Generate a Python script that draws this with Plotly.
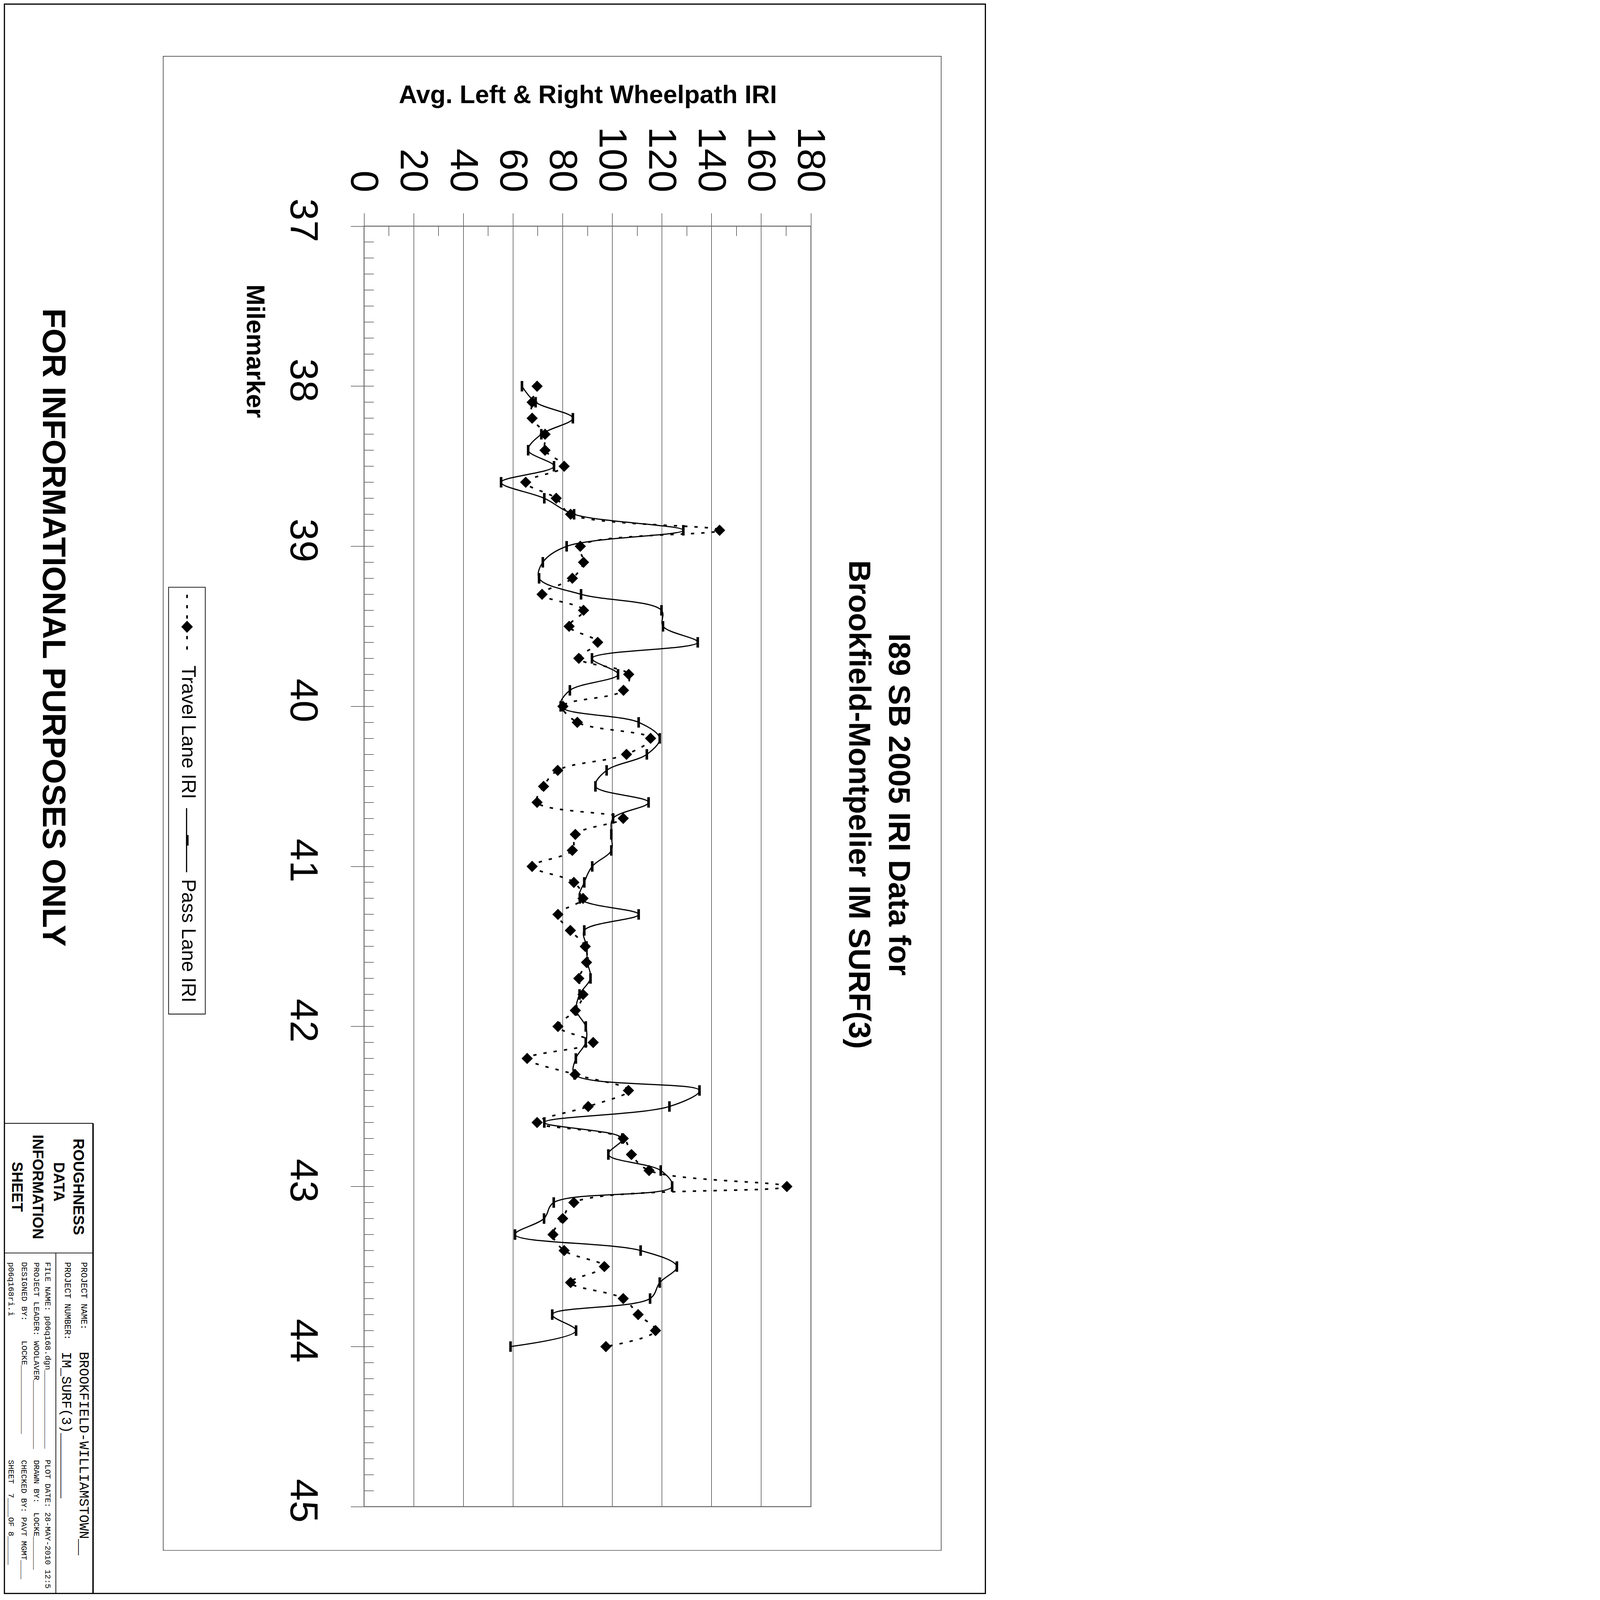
import plotly.graph_objects as go

# milemarker of each reading (0.1 mile spacing)
mile = [38.0, 38.1, 38.2, 38.3, 38.4, 38.5, 38.6, 38.7, 38.8, 38.9,
        39.0, 39.1, 39.2, 39.3, 39.4, 39.5, 39.6, 39.7, 39.8, 39.9,
        40.0, 40.1, 40.2, 40.3, 40.4, 40.5, 40.6, 40.7, 40.8, 40.9,
        41.0, 41.1, 41.2, 41.3, 41.4, 41.5, 41.6, 41.7, 41.8, 41.9,
        42.0, 42.1, 42.2, 42.3, 42.4, 42.5, 42.6, 42.7, 42.8, 42.9,
        43.0, 43.1, 43.2, 43.3, 43.4, 43.5, 43.6, 43.7, 43.8, 43.9,
        44.0]

travel_iri = [69.7, 67.7, 67.7, 72.9, 72.9, 80.6, 65.1, 77.4, 83.2, 143.2,
              87.1, 88.4, 83.9, 71.7, 88.4, 82.6, 94.1, 86.5, 106.6, 104.5,
              80.1, 85.9, 115.4, 105.7, 78.0, 72.3, 69.7, 104.4, 85.1, 83.9,
              67.7, 84.5, 88.2, 78.1, 83.1, 89.1, 89.6, 86.5, 88.2, 85.1,
              78.1, 92.3, 65.7, 85.0, 106.5, 90.3, 69.7, 104.4, 107.7, 114.8,
              170.3, 84.5, 80.0, 76.1, 80.6, 96.8, 83.2, 104.4, 110.4, 117.4,
              97.4]

pass_iri = [63.6, 69.1, 84.1, 71.4, 66.1, 76.5, 55.2, 72.6, 84.6, 128.6,
            81.6, 72.0, 70.5, 87.4, 119.8, 120.4, 134.4, 91.8, 102.3, 82.9,
            79.2, 110.6, 119.1, 113.9, 97.7, 93.2, 114.6, 100.3, 99.6, 99.6,
            91.9, 88.7, 86.9, 110.6, 88.7, 89.6, 90.0, 91.2, 86.8, 85.5,
            89.3, 89.3, 85.3, 84.8, 135.1, 123.0, 72.6, 104.0, 98.4, 119.5,
            124.1, 76.4, 72.5, 60.8, 111.4, 126.0, 119.1, 115.2, 75.8, 85.4,
            59.0]

iri_ticks = [0, 20, 40, 60, 80, 100, 120, 140, 160, 180]
mile_ticks = [37, 38, 39, 40, 41, 42, 43, 44, 45]

# the sheet is laid out in 4204x6801 page pixels; the browser window only
# shows 4096x4096, so the whole sheet is drawn at a reduced scale
S = 0.599
W, H = 4204, 6801
L, R, T, B = 1542, 3453, 953, 6425   # plot area in page pixels

SANS = "Liberation Sans, Arial, sans-serif"
MONO = "Liberation Mono, DejaVu Sans Mono, monospace"


def k(v):
    return v * S


def px(x):
    return (x - L) / (R - L)


def py(y):
    return (B - y) / (B - T)


def note(text, x, y, size, family=SANS, weight="normal", angle=90,
         xanchor="center", yanchor="middle"):
    return dict(text=text, x=px(x), y=py(y), xref="paper", yref="paper",
                showarrow=False, textangle=angle, xanchor=xanchor,
                yanchor=yanchor,
                font=dict(family=family, size=k(size), color="black",
                          weight=weight))


def line(x0, y0, x1, y1, width=3, color="black", dash=None):
    return dict(type="line", xref="paper", yref="paper",
                x0=px(x0), y0=py(y0), x1=px(x1), y1=py(y1),
                line=dict(color=color, width=k(width), dash=dash))


def rect(x0, y0, x1, y1, width=3, color="black"):
    return dict(type="rect", xref="paper", yref="paper",
                x0=px(x0), y0=py(y0), x1=px(x1), y1=py(y1),
                line=dict(color=color, width=k(width)))


dots = "{:.1f}px,{:.1f}px".format(k(14), k(30))

fig = go.Figure()

fig.add_trace(go.Scatter(
    x=travel_iri, y=mile, name="Travel Lane IRI",
    mode="lines+markers",
    line=dict(color="black", width=k(7), dash=dots, shape="spline",
              smoothing=1),
    marker=dict(symbol="diamond", size=k(37), color="black"),
))
fig.add_trace(go.Scatter(
    x=pass_iri, y=mile, name="Pass Lane IRI",
    mode="lines+markers",
    line=dict(color="black", width=k(5), shape="spline", smoothing=1),
    marker=dict(symbol="line-ns", size=k(32),
                line=dict(color="black", width=k(11))),
))

shapes = [
    rect(4, 4, 4199, 6796, width=5),           # page border
    rect(683, 227, 4010, 6612, width=2),       # drawing frame
    rect(L, T, R, B, width=4, color="#666666"),  # plot area border
    # legend
    rect(706, 2496, 863, 4320, width=3),
    line(785, 2528, 785, 2783, width=7, dash=dots),
    dict(type="path", xref="paper", yref="paper",
         path="M {:.5f} {:.5f} L {:.5f} {:.5f} L {:.5f} {:.5f} L {:.5f} {:.5f} Z".format(
             px(761), py(2665), px(785), py(2640), px(809), py(2665),
             px(785), py(2690)),
         fillcolor="black", line=dict(color="black", width=1)),
    line(783, 3440, 783, 3714, width=5),
    line(786, 3555, 786, 3600, width=11),
    # title block
    line(4, 4787, 383, 4787, width=3),
    line(383, 4787, 383, 6796, width=6),
    line(4, 5341, 383, 5341, width=3),
    line(224, 5341, 224, 6796, width=3),
]

annotations = [
    note("Avg. Left & Right Wheelpath IRI", 2500, 389, 108, weight="bold",
         angle=0),
    note("Milemarker", 1077, 1487, 108, weight="bold"),
    note("I89 SB 2005 IRI Data for<br>Brookfield-Montpelier IM SURF(3)",
         3748, 3425, 131, weight="bold"),
    note("Travel Lane IRI", 792, 2827, 84, yanchor="top"),
    note("Pass Lane IRI", 792, 3740, 84, yanchor="top"),
    note("FOR INFORMATIONAL PURPOSES ONLY", 217, 2668, 140, weight="bold"),
    # title block
    note("ROUGHNESS", 323, 5058, 64, weight="bold"),
    note("DATA", 238, 5037, 64, weight="bold"),
    note("INFORMATION", 148, 5060, 64, weight="bold"),
    note("SHEET", 60, 5058, 64, weight="bold"),
    note("PROJECT NAME:", 342, 5377, 37, family=MONO, yanchor="top"),
    note("BROOKFIELD-WILLIAMSTOWN__", 341, 5759, 58, family=MONO,
         yanchor="top"),
    note("PROJECT NUMBER:", 272, 5377, 37, family=MONO, yanchor="top"),
    note("IM_SURF(3)________", 266, 5759, 58, family=MONO, yanchor="top"),
    note("FILE NAME: p06q168.dgn________________", 188, 5377, 35,
         family=MONO, yanchor="top"),
    note("PLOT DATE: 28-MAY-2010 12:5", 188, 6222, 34, family=MONO,
         yanchor="top"),
    note("PROJECT LEADER: WOOLAVER______________", 140, 5377, 35,
         family=MONO, yanchor="top"),
    note("DRAWN BY:  LOCKE_______", 140, 6222, 34, family=MONO,
         yanchor="top"),
    note("DESIGNED BY:    LOCKE______________", 87, 5377, 35,
         family=MONO, yanchor="top"),
    note("CHECKED BY: PAVT MGMT____", 87, 6222, 34, family=MONO,
         yanchor="top"),
    note("p06q168ri.i", 32, 5377, 35, family=MONO, yanchor="top"),
    note("SHEET  7____OF 8______", 32, 6222, 34, family=MONO,
         yanchor="top"),
]

fig.update_layout(
    width=round(k(W)), height=round(k(H)),
    margin=dict(l=k(L), r=k(W - R), t=k(T), b=k(H - B), pad=0),
    paper_bgcolor="white", plot_bgcolor="white",
    showlegend=False,
    font=dict(family=SANS, color="black"),
    shapes=shapes,
    annotations=annotations,
)

fig.update_xaxes(
    side="top", range=[0, 180], tickvals=iri_ticks,
    tickangle=90, tickfont=dict(family=SANS, size=k(168), color="black"),
    ticks="outside", ticklen=k(54), tickwidth=k(2), tickcolor="black",
    ticklabelstandoff=round(k(30)),
    showgrid=True, gridcolor="black", gridwidth=k(2),
    showline=False, zeroline=False,
    minor=dict(dtick=10, ticks="inside", ticklen=k(41), tickwidth=k(2),
               tickcolor="black", showgrid=False),
)
fig.update_yaxes(
    range=[45, 37], tickvals=mile_ticks,
    tickangle=90, tickfont=dict(family=SANS, size=k(168), color="black"),
    ticks="outside", ticklen=k(55), tickwidth=k(2), tickcolor="black",
    ticklabelstandoff=round(k(55)),
    showgrid=False, showline=False, zeroline=False,
    minor=dict(dtick=0.1, ticks="inside", ticklen=k(41), tickwidth=k(2),
               tickcolor="black", showgrid=False),
)

fig.write_html("out.html")
